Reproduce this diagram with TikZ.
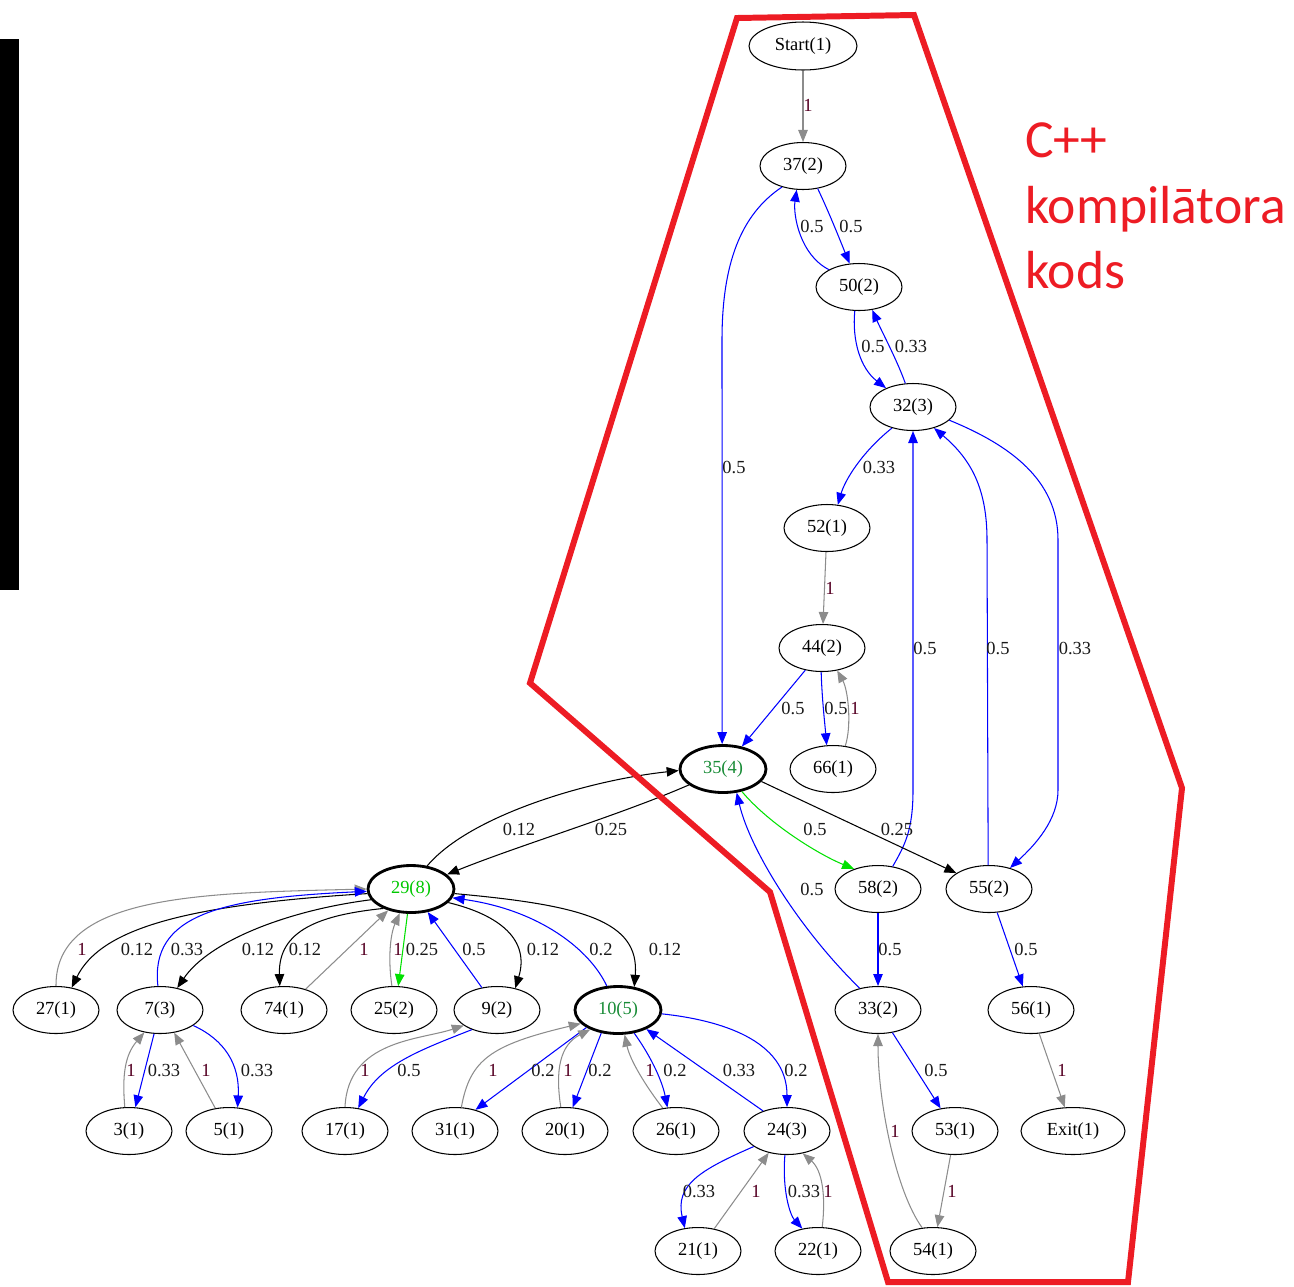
\documentclass[tikz,border=0pt]{standalone}
\usepackage{fontspec}
\setmainfont{Liberation Serif}
\newfontfamily\notefont{Carlito}
\usetikzlibrary{shapes.geometric,arrows.meta}

\definecolor{edgegray}{RGB}{140,140,140}
\definecolor{edgeblue}{RGB}{0,0,255}
\definecolor{edgegreen}{RGB}{0,225,0}
\definecolor{hubgreen}{RGB}{25,140,55}
\definecolor{brightgreen}{RGB}{0,200,0}
\definecolor{oneink}{RGB}{85,0,35}
\definecolor{markred}{RGB}{237,28,36}

\tikzset{
  vtx/.style={ellipse, draw, line width=0.6pt, minimum width=1.72cm,
              minimum height=0.94cm, inner sep=0pt, font=\fontsize{10.5}{12}\selectfont},
  hub/.style={vtx, line width=1.6pt},
  edge/.style={-{Triangle[length=2.4mm,width=1.9mm]}, line width=0.6pt},
  eg/.style={edge, draw=edgegray},
  eb/.style={edge, draw=edgeblue},
  ek/.style={edge, draw=black},
  egr/.style={edge, draw=edgegreen},
  lbl/.style={inner sep=0pt, font=\fontsize{10.5}{12}\selectfont, text=black!90},
  lone/.style={lbl, text=oneink},
  note/.style={anchor=base west, inner sep=0pt, text=markred,
               font=\notefont\fontsize{30.5}{36}\selectfont},
  outline/.style={draw=markred, line width=3.4pt, line join=miter}
}

\begin{document}
\begin{tikzpicture}[x=0.02cm,y=-0.02cm]
\useasboundingbox (0,0) rectangle (1294,1286);

% side bar
\fill[black] (0,39) rectangle (19,590);

% nodes
\node[vtx, minimum width=2.16cm, minimum height=0.96cm] (nS) at (803,46) {Start(1)};
\node[vtx] (n37) at (803,166) {37(2)};
\node[vtx] (n50) at (859,287) {50(2)};
\node[vtx] (n32) at (913,407) {32(3)};
\node[vtx] (n52) at (827,528) {52(1)};
\node[vtx] (n44) at (822,648) {44(2)};
\node[hub, text=hubgreen] (n35) at (723,769) {35(4)};
\node[vtx] (n66) at (833,769) {66(1)};
\node[hub, text=brightgreen] (n29) at (411,889) {29(8)};
\node[vtx] (n58) at (878,889) {58(2)};
\node[vtx] (n55) at (989,889) {55(2)};
\node[vtx] (n27) at (56,1010) {27(1)};
\node[vtx] (n7) at (160,1010) {7(3)};
\node[vtx] (n74) at (284,1010) {74(1)};
\node[vtx] (n25) at (394,1010) {25(2)};
\node[vtx] (n9) at (497,1010) {9(2)};
\node[hub, text=hubgreen] (n10) at (618,1010) {10(5)};
\node[vtx] (n33) at (878,1010) {33(2)};
\node[vtx] (n56) at (1031,1010) {56(1)};
\node[vtx] (n3) at (129,1131) {3(1)};
\node[vtx] (n5) at (229,1131) {5(1)};
\node[vtx] (n17) at (345,1131) {17(1)};
\node[vtx] (n31) at (455,1131) {31(1)};
\node[vtx] (n20) at (565,1131) {20(1)};
\node[vtx] (n26) at (676,1131) {26(1)};
\node[vtx] (n24) at (787,1131) {24(3)};
\node[vtx] (n53) at (955,1131) {53(1)};
\node[vtx, minimum width=2.08cm] (nE) at (1073,1131) {Exit(1)};
\node[vtx] (n21) at (698,1251) {21(1)};
\node[vtx] (n22) at (818,1251) {22(1)};
\node[vtx] (n54) at (933,1251) {54(1)};

% upper chain
\draw[eg] (nS) -- (n37);
\draw[eb] (n37.-57) .. controls (828,210) and (840,240) .. (n50.112);
\draw[eb] (n50.150) .. controls (800,255) and (793,215) .. (n37.-105);
\draw[eb] (n37.-135) .. controls (740,215) and (722,265) .. (722,340) -- (n35.92);
\draw[eb] (n50.-100) .. controls (852,340) and (860,368) .. (n32.145);
\draw[eb] (n32.108) .. controls (897,360) and (882,332) .. (n50.-60);
\draw[eb] (n32.-135) .. controls (862,452) and (845,480) .. (n52.65);
\draw[eg] (n52) -- (n44);
\draw[eb] (n44.-127) -- (n35.50);
\draw[eb] (n44.-92) .. controls (822,700) and (825,725) .. (n66.105);
\draw[eg] (n66.62) .. controls (852,725) and (848,690) .. (n44.-56);
\draw[eb] (n58.57) .. controls (905,845) and (913,830) .. (913,790) -- (n32.-90);
\draw[eb] (n55.92) -- (987,540) .. controls (987,490) and (972,460) .. (n32.-45);
\draw[eb] (n32.-20) .. controls (1010,445) and (1058,480) .. (1058,540) -- (1058,790)
          .. controls (1058,820) and (1035,845) .. (n55.45);

% around 35(4)
\draw[ek] (n35.-155) .. controls (620,815) and (520,845) .. (n29.22);
\draw[ek] (n29.55) .. controls (470,815) and (590,780) .. (n35.182);
\draw[egr] (n35.-50) .. controls (770,825) and (820,855) .. (n58.140);
\draw[ek] (n35.-18) -- (n55.154);
\draw[eb] (n33.130) .. controls (800,930) and (750,850) .. (n35.-60);
\draw[eb] (n58) -- (n33);
\draw[eb] (n55) -- (n56);
\draw[eg] (n56) -- (nE);
\draw[eb] (n33) -- (n53);
\draw[eg] (n53) -- (n54);
\draw[eg] (n54.115) .. controls (895,1190) and (878,1100) .. (n33.-90);

% around 29(8)
\draw[ek] (n29.186) .. controls (180,905) and (100,930) .. (n27.55);
\draw[eg] (n27.90) .. controls (55,895) and (200,893) .. (n29.180);
\draw[eb] (n7.95) .. controls (150,915) and (220,898) .. (n29.183);
\draw[ek] (n29.195) .. controls (290,910) and (210,940) .. (n7.52);
\draw[ek] (n29.215) .. controls (320,915) and (278,930) .. (n74.100);
\draw[eg] (n74.44) -- (n29.223);
\draw[eg] (n25.95) .. controls (388,960) and (390,935) .. (n29.245);
\draw[egr] (n29.262) -- (n25.80);
\draw[eb] (n9.124) -- (n29.-54);
\draw[ek] (n29.-20) .. controls (500,915) and (530,940) .. (n9.50);
\draw[eb] (n10.115) .. controls (590,950) and (540,910) .. (n29.-12);
\draw[ek] (n29.-6) .. controls (580,905) and (640,920) .. (n10.55);

% lower left
\draw[eg] (n3.100) .. controls (122,1075) and (125,1055) .. (n7.235);
\draw[eb] (n7.256) -- (n3.75);
\draw[eg] (n5.121) -- (n7.-58);
\draw[eb] (n7.-25) .. controls (225,1040) and (240,1065) .. (n5.70);
\draw[eg] (n17.90) .. controls (348,1040) and (420,1040) .. (n9.205);
\draw[eb] (n9.218) .. controls (420,1050) and (380,1065) .. (n17.60);

% around 10(5)
\draw[eg] (n31.75) .. controls (470,1060) and (490,1045) .. (n10.200);
\draw[eb] (n10.209) -- (n31.46);
\draw[eg] (n20.100) .. controls (555,1070) and (560,1045) .. (n10.215);
\draw[eb] (n10.234) -- (n20.72);
\draw[eg] (n26.120) .. controls (645,1085) and (630,1060) .. (n10.-75);
\draw[eb] (n10.-55) .. controls (650,1055) and (662,1080) .. (n26.110);
\draw[eb] (n24.140) -- (n10.-34);
\draw[eb] (n10.-5) .. controls (720,1020) and (787,1040) .. (n24.90);
\draw[eb] (n24.205) .. controls (700,1170) and (675,1185) .. (n21.120);
\draw[eg] (n21.54) -- (n24.230);
\draw[eb] (n24.-95) .. controls (782,1190) and (790,1215) .. (n22.125);
\draw[eg] (n22.80) .. controls (826,1195) and (822,1170) .. (n24.-55);

% edge labels
\node[lone] (l01) at (808,105) {1};
\node[lbl] (l02) at (851,226) {0.5};
\node[lbl] (l03) at (812,226) {0.5};
\node[lbl] (l04) at (734,467) {0.5};
\node[lbl] (l05) at (873,346) {0.5};
\node[lbl] (l06) at (911,346) {0.33};
\node[lbl] (l07) at (879,467) {0.33};
\node[lone] (l08) at (830,588) {1};
\node[lbl] (l09) at (793,708) {0.5};
\node[lbl] (l10) at (836,708) {0.5};
\node[lone] (l11) at (855,708) {1};
\node[lbl] (l12) at (925,648) {0.5};
\node[lbl] (l13) at (998,648) {0.5};
\node[lbl] (l14) at (1075,648) {0.33};
\node[lbl] (l15) at (611,829) {0.25};
\node[lbl] (l16) at (519,829) {0.12};
\node[lbl] (l17) at (815,829) {0.5};
\node[lbl] (l18) at (897,829) {0.25};
\node[lbl] (l19) at (812,889) {0.5};
\node[lbl] (l20) at (890,949) {0.5};
\node[lbl] (l21) at (1026,949) {0.5};
\node[lone] (l22) at (1062,1070) {1};
\node[lbl] (l23) at (936,1070) {0.5};
\node[lone] (l24) at (952,1191) {1};
\node[lone] (l25) at (895,1131) {1};
\node[lbl] (l26) at (137,949) {0.12};
\node[lone] (l27) at (82,949) {1};
\node[lbl] (l28) at (187,949) {0.33};
\node[lbl] (l29) at (258,949) {0.12};
\node[lbl] (l30) at (305,949) {0.12};
\node[lone] (l31) at (364,949) {1};
\node[lone] (l32) at (398,949) {1};
\node[lbl] (l33) at (422,949) {0.25};
\node[lbl] (l34) at (474,949) {0.5};
\node[lbl] (l35) at (543,949) {0.12};
\node[lbl] (l36) at (601,949) {0.2};
\node[lbl] (l37) at (665,949) {0.12};
\node[lone] (l38) at (131,1070) {1};
\node[lbl] (l39) at (164,1070) {0.33};
\node[lone] (l40) at (206,1070) {1};
\node[lbl] (l41) at (257,1070) {0.33};
\node[lone] (l42) at (365,1070) {1};
\node[lbl] (l43) at (409,1070) {0.5};
\node[lone] (l44) at (493,1070) {1};
\node[lbl] (l45) at (543,1070) {0.2};
\node[lone] (l46) at (568,1070) {1};
\node[lbl] (l47) at (600,1070) {0.2};
\node[lone] (l48) at (650,1070) {1};
\node[lbl] (l49) at (675,1070) {0.2};
\node[lbl] (l50) at (739,1070) {0.33};
\node[lbl] (l51) at (796,1070) {0.2};
\node[lbl] (l52) at (699,1191) {0.33};
\node[lone] (l53) at (756,1191) {1};
\node[lbl] (l54) at (804,1191) {0.33};
\node[lone] (l55) at (828,1191) {1};

% marked region and its caption
\draw[outline] (737,18) -- (914,15) -- (1182,788) -- (1128,1282) -- (888,1282)
               -- (770,892) -- (530,683) -- cycle;
\node[note] (t1) at (1025,157) {C++};
\node[note] (t2) at (1025,223) {kompilātora};
\node[note] (t3) at (1025,288) {kods};
\end{tikzpicture}
\end{document}
